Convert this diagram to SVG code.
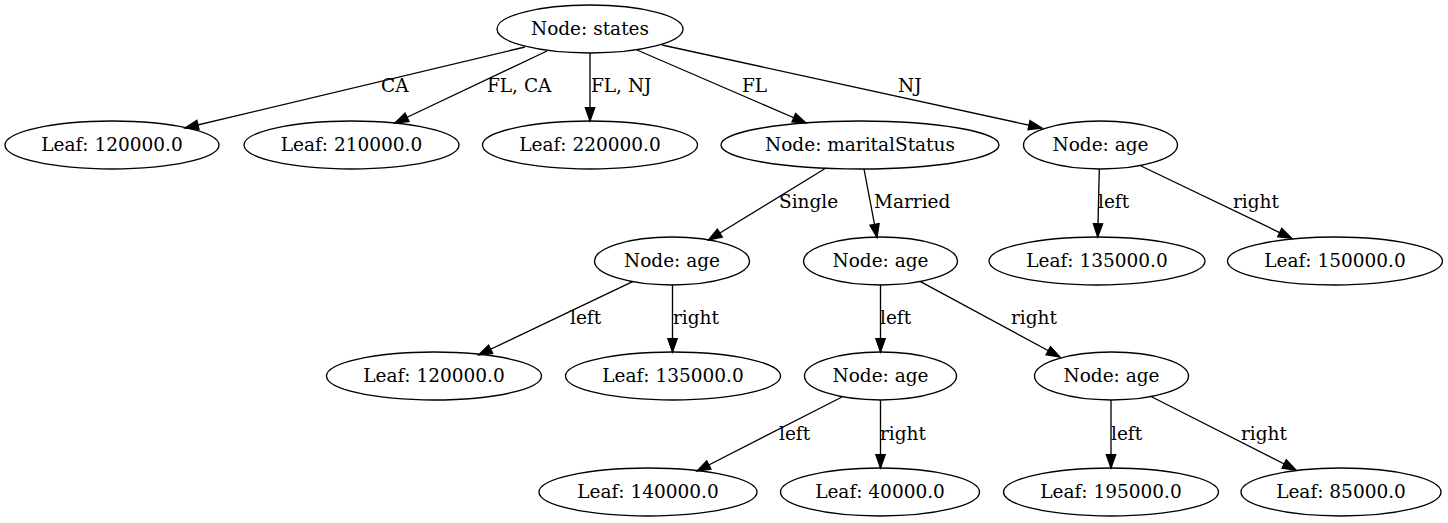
<svg xmlns="http://www.w3.org/2000/svg" width="1448" height="523" viewBox="0 0 1448 523">
<style>
.n ellipse{fill:none;stroke:#000;stroke-width:1.33}
.n text{font-family:"DejaVu Serif",serif;font-size:18.5px;text-anchor:middle;fill:#000}
#edges line{stroke:#000;stroke-width:1.33;marker-end:url(#ah)}
#edges text{font-family:"DejaVu Serif",serif;font-size:18.5px;fill:#000}
</style>
<defs>
<marker id="ah" markerUnits="userSpaceOnUse" markerWidth="16" markerHeight="12" refX="13.3" refY="4.67" orient="auto" overflow="visible">
<path d="M0,0 L13.3,4.67 L0,9.33 z" fill="#000" stroke="#000" stroke-width="1.33"/>
</marker>
</defs>
<rect width="1448" height="523" fill="#fff"/>
<g id="edges">
<line x1="525" y1="47" x2="185" y2="128"/>
<line x1="547" y1="51" x2="395" y2="123"/>
<line x1="590" y1="53" x2="590" y2="121"/>
<line x1="637" y1="50" x2="806" y2="123"/>
<line x1="662" y1="45" x2="1042" y2="128"/>
<line x1="826" y1="168" x2="708.5" y2="240"/>
<line x1="864" y1="169" x2="877" y2="237.5"/>
<line x1="1099.3" y1="169" x2="1097.7" y2="237"/>
<line x1="1141" y1="166" x2="1291.7" y2="238.3"/>
<line x1="632.6" y1="281.7" x2="478.6" y2="355"/>
<line x1="672.5" y1="285" x2="672.5" y2="352"/>
<line x1="880.5" y1="285" x2="880.5" y2="352"/>
<line x1="920.5" y1="281.7" x2="1060" y2="357"/>
<line x1="842" y1="397" x2="697" y2="471"/>
<line x1="880.5" y1="400" x2="880.5" y2="468"/>
<line x1="1111" y1="400" x2="1111" y2="468"/>
<line x1="1150" y1="396" x2="1296" y2="470"/>
<text x="381" y="92">CA</text>
<text x="487" y="92">FL, CA</text>
<text x="591" y="92">FL, NJ</text>
<text x="742" y="92">FL</text>
<text x="898" y="92">NJ</text>
<text x="779" y="208">Single</text>
<text x="874" y="208">Married</text>
<text x="1098" y="208">left</text>
<text x="1233" y="208">right</text>
<text x="570" y="324">left</text>
<text x="673" y="324">right</text>
<text x="880" y="324">left</text>
<text x="1011" y="324">right</text>
<text x="779" y="440">left</text>
<text x="880" y="440">right</text>
<text x="1111" y="440">left</text>
<text x="1241" y="440">right</text>
</g>
<g id="root" class="n"><ellipse cx="590" cy="29" rx="93" ry="24"/><text x="590" y="35">Node: states</text></g>
<g id="leaf1" class="n"><ellipse cx="112" cy="145" rx="107" ry="24"/><text x="112" y="151">Leaf: 120000.0</text></g>
<g id="leaf2" class="n"><ellipse cx="351.5" cy="145" rx="107.5" ry="24"/><text x="351.5" y="151">Leaf: 210000.0</text></g>
<g id="leaf3" class="n"><ellipse cx="590" cy="145" rx="107.5" ry="24"/><text x="590" y="151">Leaf: 220000.0</text></g>
<g id="marital" class="n"><ellipse cx="860" cy="145" rx="139" ry="24"/><text x="860" y="151">Node: maritalStatus</text></g>
<g id="age1" class="n"><ellipse cx="1100.5" cy="145" rx="77" ry="24"/><text x="1100.5" y="151">Node: age</text></g>
<g id="age2" class="n"><ellipse cx="672" cy="261" rx="77.5" ry="24"/><text x="672" y="267">Node: age</text></g>
<g id="age3" class="n"><ellipse cx="880.5" cy="261" rx="77" ry="24"/><text x="880.5" y="267">Node: age</text></g>
<g id="leaf4" class="n"><ellipse cx="1097" cy="261" rx="108" ry="24"/><text x="1097" y="267">Leaf: 135000.0</text></g>
<g id="leaf5" class="n"><ellipse cx="1335" cy="261" rx="107.5" ry="24"/><text x="1335" y="267">Leaf: 150000.0</text></g>
<g id="leaf6" class="n"><ellipse cx="434" cy="376" rx="107.5" ry="24"/><text x="434" y="382">Leaf: 120000.0</text></g>
<g id="leaf7" class="n"><ellipse cx="673" cy="376" rx="107.5" ry="24"/><text x="673" y="382">Leaf: 135000.0</text></g>
<g id="age4" class="n"><ellipse cx="880.5" cy="376" rx="76" ry="24"/><text x="880.5" y="382">Node: age</text></g>
<g id="age5" class="n"><ellipse cx="1111.5" cy="376" rx="77" ry="24"/><text x="1111.5" y="382">Node: age</text></g>
<g id="leaf8" class="n"><ellipse cx="648" cy="492" rx="109" ry="24"/><text x="648" y="498">Leaf: 140000.0</text></g>
<g id="leaf9" class="n"><ellipse cx="880" cy="492" rx="99.5" ry="24"/><text x="880" y="498">Leaf: 40000.0</text></g>
<g id="leaf10" class="n"><ellipse cx="1111" cy="492" rx="107.5" ry="24"/><text x="1111" y="498">Leaf: 195000.0</text></g>
<g id="leaf11" class="n"><ellipse cx="1341" cy="492" rx="100" ry="24"/><text x="1341" y="498">Leaf: 85000.0</text></g>
</svg>
